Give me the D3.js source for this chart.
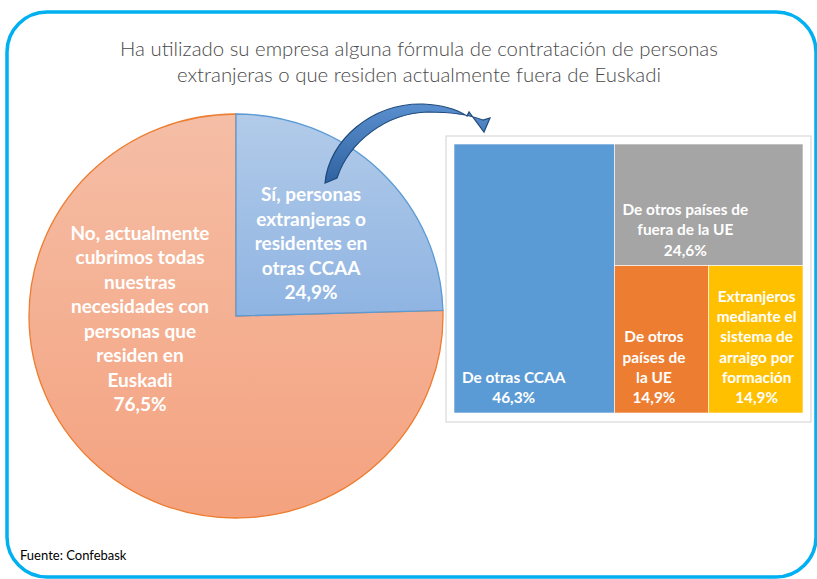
<!DOCTYPE html>
<html><head><meta charset="utf-8">
<script src="https://cdn.jsdelivr.net/npm/d3@7"></script>
<style>html,body{margin:0;padding:0;background:#fff;}svg{display:block;}</style>
</head><body>
<svg id="c" width="817" height="579"></svg>
<script>
// ---- data ----
const titleLines = ["Ha utilizado su empresa alguna fórmula de contratación de personas",
                    "extranjeras o que residen actualmente fuera de Euskadi"];
const pieCategories = ["Sí", "No"];
const pieValues = [24.9, 76.5];
const pieLabelLines = [
  ["Sí, personas", "extranjeras o", "residentes en", "otras CCAA", "24,9%"],
  ["No, actualmente", "cubrimos todas", "nuestras", "necesidades con", "personas que", "residen en", "Euskadi", "76,5%"]
];
const tmCategories = ["De otras CCAA", "De otros países de fuera de la UE", "De otros países de la UE", "Extranjeros mediante el sistema de arraigo por formación"];
const tmValues = [46.3, 24.6, 14.9, 14.9];
const tmLabelLines = [
  ["De otras CCAA", "46,3%"],
  ["De otros países de", "fuera de la UE", "24,6%"],
  ["De otros", "países de", "la UE", "14,9%"],
  ["Extranjeros", "mediante el", "sistema de", "arraigo por", "formación", "14,9%"]
];
const sourceText = "Fuente: Confebask";

// ---- drawing ----
const svg = d3.select("#c");
const FONT = "Lato, 'Open Sans', sans-serif";
const defs = svg.append("defs");

function grad(id, c1, c2) {
  const g = defs.append("linearGradient").attr("id", id).attr("x1", 0).attr("y1", 0).attr("x2", 0).attr("y2", 1);
  g.append("stop").attr("offset", "0%").attr("stop-color", c1);
  g.append("stop").attr("offset", "100%").attr("stop-color", c2);
}
grad("gBlue", "#b2cbe9", "#8fb4e2");
grad("gOrange", "#f5bea6", "#f4a27f");
grad("gArrow", "#5a8fcf", "#2f62a0");

// frame
svg.append("rect").attr("x", 7).attr("y", 12).attr("width", 809).attr("height", 565)
  .attr("rx", 40).attr("ry", 40).attr("fill", "#fff").attr("stroke", "#00b0f0").attr("stroke-width", 3.5);

// title
const title = svg.append("text").attr("text-anchor", "middle").attr("fill", "#4a4a4a")
  .attr("font-family", FONT).attr("font-weight", 300);
title.selectAll("tspan").data(titleLines).join("tspan")
  .attr("x", 419).attr("y", (d, i) => 56 + i * 26).text(d => d);
title.attr("font-size", 20);
{ const w = title.select("tspan").node().getComputedTextLength(); title.attr("font-size", 20 * 598 / w); }

// pie
const cx = 236, cy = 316, R = 202, sx = 207 / 202;
const pie = d3.pie().sort(null).value(d => d)(pieValues);
const arc = d3.arc().innerRadius(0).outerRadius(R);
const pg = svg.append("g").attr("transform", `translate(${cx},${cy}) scale(${sx},1)`);
const fills = ["url(#gBlue)", "url(#gOrange)"];
const strokes = ["#5b9bd5", "#ed7d31"];
pg.selectAll("path").data(pie.slice().reverse()).join("path")
  .attr("d", arc).attr("fill", d => fills[d.index]).attr("stroke", d => strokes[d.index])
  .attr("stroke-width", 1.3).attr("vector-effect", "non-scaling-stroke");

// pie labels
const labelArc = d3.arc().innerRadius(R * 0.52).outerRadius(R * 0.52);
const pieAnchors = [
  (() => { const c = labelArc.centroid(pie[0]); return [cx + c[0] * sx, cy + c[1] + 3]; })(),
  [cx - 96, cy + 3]
];
pieLabelLines.forEach((lines, k) => {
  const lh = 24.5, n = lines.length;
  const t = svg.append("text").attr("text-anchor", "middle").attr("fill", "#fff")
    .attr("font-family", FONT).attr("font-weight", 700).attr("font-size", 19);
  t.selectAll("tspan").data(lines).join("tspan")
    .attr("x", pieAnchors[k][0])
    .attr("y", (d, i) => pieAnchors[k][1] + (i - (n - 1) / 2) * lh + 6.5)
    .text(d => d);
});

// arrow (decoration)
svg.append("path")
  .attr("d", "M325,183 C329,140 372,103 423,104 C444,105 458,110 467,116 L469,112 L484,132 L490,118 L483,120 C470,115 451,112 428,112 C386,113 349,142 337,178 Z")
  .attr("fill", "url(#gArrow)").attr("stroke", "#1f4a7a").attr("stroke-width", 1.2);

// treemap box
svg.append("rect").attr("x", 446).attr("y", 136).attr("width", 365).attr("height", 286)
  .attr("fill", "#fff").attr("stroke", "#d9d9d9").attr("stroke-width", 1.2);

const root = d3.hierarchy({ children: tmValues.map((v, i) => ({ name: tmCategories[i], value: v, i })) })
  .sum(d => d.value || 0);
d3.treemap().tile(d3.treemapBinary).size([349, 269]).paddingInner(0)(root);
const tmColors = ["#5b9bd5", "#a5a5a5", "#ed7d31", "#ffc000"];
const tg = svg.append("g").attr("transform", "translate(454,144)");
const leaves = root.leaves();
tg.selectAll("rect").data(leaves).join("rect")
  .attr("x", d => d.x0).attr("y", d => d.y0)
  .attr("width", d => d.x1 - d.x0).attr("height", d => d.y1 - d.y0)
  .attr("fill", d => tmColors[d.data.i]).attr("stroke", "#fff").attr("stroke-width", 0.6);

leaves.forEach(d => {
  const lines = tmLabelLines[d.data.i];
  const lh = 20.2, n = lines.length;
  const t = tg.append("text").attr("text-anchor", "middle").attr("fill", "#fff")
    .attr("font-family", FONT).attr("font-weight", 700).attr("font-size", 15.4);
  const ts = t.selectAll("tspan").data(lines).join("tspan")
    .attr("y", (s, i) => d.y1 - 10 - (n - 1 - i) * lh).text(s => s);
  let maxW = 0;
  ts.each(function () { maxW = Math.max(maxW, this.getComputedTextLength()); });
  ts.attr("x", d.x0 + 8 + maxW / 2);
});

// source
svg.append("text").attr("x", 20).attr("y", 560).attr("font-family", FONT)
  .attr("font-size", 13).attr("fill", "#000").text(sourceText);
</script>
</body></html>
